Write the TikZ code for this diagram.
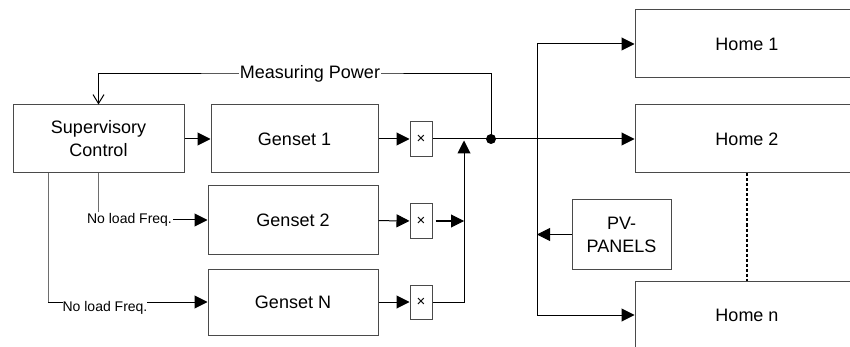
\documentclass[tikz,border=0pt]{standalone}
\usepackage{fontspec}
\setmainfont{Liberation Sans}
\usetikzlibrary{arrows.meta, positioning, calc}
\definecolor{cgrey}{HTML}{4A4A4A}
\definecolor{clight}{HTML}{6E6E6E}
\tikzset{
  every picture/.style={line width=1pt},
  box/.style={draw=cgrey, fill=white, align=center, inner sep=0pt, minimum width=#1, minimum height=68pt, font=\fontsize{18}{23}\selectfont},
  box/.default=170pt,
  mult/.style={draw=cgrey, fill=white, minimum width=22pt, minimum height=35pt, inner sep=0pt, font=\fontsize{15}{15}\selectfont},
  arrow/.style={-{Triangle[length=13pt, width=13pt]}, draw=black},
  lbl/.style={fill=white, inner sep=1pt, font=\fontsize{14}{16}\selectfont},
  title/.style={fill=white, inner sep=1pt, font=\fontsize{18}{21}\selectfont},
}

\begin{document}
\begin{tikzpicture}[x=1pt, y=-1pt]
  \useasboundingbox (0,0) rectangle (850,347);
  \clip (0,0) rectangle (850,347);
  % blocks
  \node[box=171pt] (sup) at (98.5,139) {Supervisory\\Control};
  \node[box=167pt] (gen1) at (294.5,139) {Genset 1};
  \node[box] (gen2) at (293,220) {Genset 2};
  \node[box, minimum height=66pt] (genN) at (293,302) {Genset N};
  \node[mult] (mul1) at (421,139) {×};
  \node[mult, minimum height=34pt] (mul2) at (421,221) {×};
  \node[mult, minimum height=34pt] (mul3) at (421,302) {×};
  \node[box=224pt] (home1) at (747,44) {Home 1};
  \node[box=224pt] (home2) at (747,139) {Home 2};
  \node[box=224pt] (homen) at (747,315) {Home n};
  \node[box=99pt, minimum height=69pt] (pv) at (621.5,234.5) {PV-\\PANELS};
  \coordinate (sum) at (464,139);
  \coordinate (bus) at (537,139);
  \coordinate (meas) at (310,74);
  \coordinate (fq) at (48,173);
  \fill (491,139) coordinate (tap) circle (5pt);
  % connectors
  \draw[arrow] (sup) -- (gen1);
  \draw[arrow] (gen1) -- (mul1);
  \draw[arrow] (gen2) -- (mul2);
  \draw[arrow] (genN) -- (mul3);
  \draw (mul1) -- (bus);
  \draw[arrow] ([xshift=3pt]mul2.east) -- (mul2 -| sum);
  \draw[arrow, shorten >=1.5pt] (mul3) -| (sum);
  \draw (bus |- home1.west) -- (bus |- homen.west);
  \draw[arrow] (bus |- home1.west) -- (home1);
  \draw[arrow] (bus) -- (home2);
  \draw[arrow] (bus |- homen.west) -- (homen);
  \draw[arrow] (pv) -- (pv -| bus);
  \draw[line width=2pt, dash pattern=on 3pt off 2pt] (home2.south) -- (homen.north);
  \draw[-{Straight Barb[length=9pt, width=11pt]}] (tap) |- (meas) -| (sup.north);
  \node[title] (measlbl) at (meas) {Measuring Power};
  % no load frequency
  \node[lbl] (nl2) at (129.5,220) {No load Freq.};
  \draw[clight] (sup.south) -- (sup.south |- nl2.north);
  \draw[arrow] (nl2) -- (gen2);
  \draw[clight] (sup.south -| fq) -- (fq |- genN.west);
  \draw[arrow] (fq |- genN.west) -- (genN);
  \node[lbl, inner sep=0pt] (nlN) at (105,308) {No load Freq.};
\end{tikzpicture}
\end{document}
